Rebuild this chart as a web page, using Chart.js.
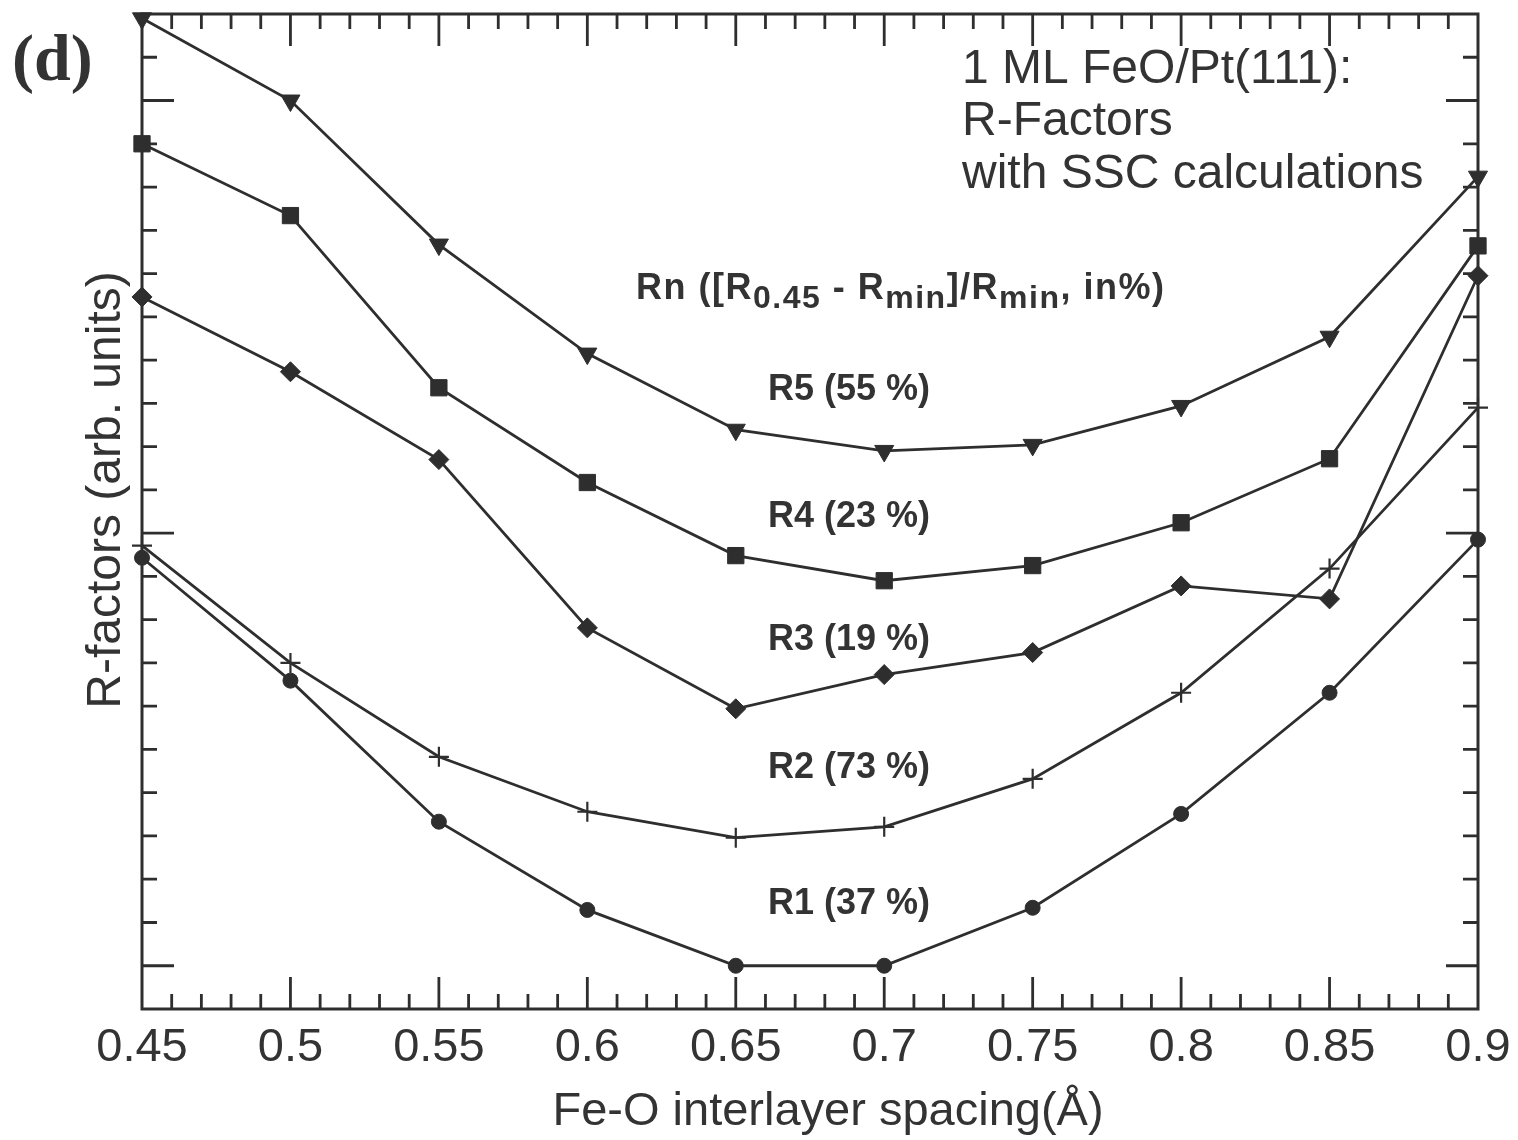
<!DOCTYPE html>
<html>
<head>
<meta charset="utf-8">
<script src="https://cdn.jsdelivr.net/npm/chart.js@4.4.0/dist/chart.umd.min.js"></script>
<style>
  html, body { margin: 0; padding: 0; background: #fff; }
  #wrap { width: 1518px; height: 1140px; }
</style>
</head>
<body>
<div id="wrap"><canvas id="rChart" width="1518" height="1140"></canvas></div>
<script>
// Fe-O interlayer spacing (A)
const spacing = [0.45, 0.5, 0.55, 0.6, 0.65, 0.7, 0.75, 0.8, 0.85, 0.9];

// R-factors, arbitrary units
const r1 = [9.43, 6.59, 3.33, 1.29, 0.0, 0.0, 1.34, 3.51, 6.31, 9.85];
const r2 = [9.71, 7.0, 4.83, 3.56, 2.96, 3.21, 4.32, 6.31, 9.18, 12.9];
const r3 = [15.46, 13.73, 11.7, 7.81, 5.94, 6.73, 7.24, 8.78, 8.48, 15.95];
const r4 = [19.0, 17.34, 13.36, 11.17, 9.48, 8.9, 9.25, 10.24, 11.72, 16.64];
const r5 = [21.9, 20.0, 16.67, 14.15, 12.39, 11.9, 12.04, 12.94, 14.54, 18.24];

const seriesLabels = ['R1 (37 %)', 'R2 (73 %)', 'R3 (19 %)', 'R4 (23 %)', 'R5 (55 %)'];
const xTickValues = [0.45, 0.5, 0.55, 0.6, 0.65, 0.7, 0.75, 0.8, 0.85, 0.9];

const ink = '#2e2e2e';

function pts(arr) {
  return spacing.map((x, i) => ({ x: x, y: arr[i] }));
}

function series(label, arr, style, radius, rot) {
  return {
    label: label,
    data: pts(arr),
    borderColor: ink,
    backgroundColor: ink,
    borderWidth: 2.8,
    pointStyle: style,
    pointRadius: radius,
    pointRotation: rot || 0,
    pointBorderWidth: style === 'cross' ? 2.2 : 1,
    pointBorderColor: ink,
    pointBackgroundColor: ink,
    tension: 0,
    clip: false
  };
}

// frame + inward ticks on all four sides
const frameTicks = {
  id: 'frameTicks',
  beforeDatasetsDraw(chart) {
    const { ctx, chartArea: a, scales: { x, y } } = chart;
    ctx.save();
    ctx.strokeStyle = ink;
    ctx.lineWidth = 3;
    ctx.strokeRect(a.left, a.top, a.right - a.left, a.bottom - a.top);
    ctx.lineWidth = 2.8;
    ctx.beginPath();
    for (let i = 46; i < 90; i++) {
      const px = x.getPixelForValue(i / 100);
      const len = i % 5 === 0 ? 32 : 15;
      ctx.moveTo(px, a.bottom); ctx.lineTo(px, a.bottom - len);
      ctx.moveTo(px, a.top); ctx.lineTo(px, a.top + len);
    }
    for (let v = 0; v <= 21; v++) {
      const py = y.getPixelForValue(v);
      const len = v % 10 === 0 ? 32 : 15;
      ctx.moveTo(a.left, py); ctx.lineTo(a.left + len, py);
      ctx.moveTo(a.right, py); ctx.lineTo(a.right - len, py);
    }
    ctx.stroke();
    ctx.restore();
  },
  afterDraw(chart) {
    const { ctx } = chart;
    ctx.save();
    ctx.fillStyle = '#333';
    ctx.textBaseline = 'alphabetic';

    // panel letter
    ctx.font = 'bold 66px "Liberation Serif", "Times New Roman", serif';
    ctx.textAlign = 'left';
    ctx.fillText('(d)', 12, 80);

    // axis titles
    ctx.font = '47px "Liberation Sans", Arial, sans-serif';
    ctx.textAlign = 'center';
    ctx.fillText('Fe-O interlayer spacing(\u00C5)', 828, 1125);
    ctx.save();
    ctx.translate(120, 490);
    ctx.rotate(-Math.PI / 2);
    ctx.font = '48px "Liberation Sans", Arial, sans-serif';
    ctx.fillText('R-factors (arb. units)', 0, 0);
    ctx.restore();

    // title block
    ctx.textAlign = 'left';
    ctx.font = '48px "Liberation Sans", Arial, sans-serif';
    ctx.fillText('1 ML FeO/Pt(111):', 962, 83);
    ctx.fillText('R-Factors', 962, 135);
    ctx.fillText('with SSC calculations', 962, 188);

    // Rn ([R0.45 - Rmin]/Rmin, in%)
    const big = 'bold 36px "Liberation Sans", Arial, sans-serif';
    const sub = 'bold 32px "Liberation Sans", Arial, sans-serif';
    const parts = [
      ['Rn ([R', big, 0], ['0.45', sub, 9], [' - R', big, 0], ['min', sub, 9],
      [']/R', big, 0], ['min', sub, 9], [', in%)', big, 0]
    ];
    ctx.letterSpacing = '1.5px';
    let cx = 636;
    parts.forEach(([t, f, dy]) => {
      ctx.font = f;
      ctx.fillText(t, cx, 299 + dy);
      cx += ctx.measureText(t).width;
    });
    ctx.letterSpacing = '0px';

    // curve labels
    ctx.font = big;
    const labelY = [914, 778, 650, 527, 400];
    seriesLabels.forEach((t, i) => ctx.fillText(t, 768, labelY[i]));
    ctx.restore();
  }
};

const ctx = document.getElementById('rChart').getContext('2d');
const rChart = new Chart(ctx, {
  type: 'line',
  data: {
    datasets: [
      series(seriesLabels[0], r1, 'circle', 7.5),
      series(seriesLabels[1], r2, 'cross', 10),
      series(seriesLabels[2], r3, 'rectRot', 10),
      series(seriesLabels[3], r4, 'rect', 11.5),
      series(seriesLabels[4], r5, 'triangle', 11, 180)
    ]
  },
  options: {
    responsive: false,
    animation: false,
    layout: { padding: { left: 0, top: 14, right: 40, bottom: 0 } },
    plugins: { legend: { display: false }, tooltip: { enabled: false } },
    scales: {
      x: {
        type: 'linear',
        min: 0.45,
        max: 0.9,
        grid: { display: false, drawTicks: false },
        border: { display: false },
        afterBuildTicks(scale) { scale.ticks = xTickValues.map(v => ({ value: v })); },
        afterFit(scale) {
          scale.height = 131;
          scale.paddingLeft = 0;
          scale.paddingRight = 0;
        },
        ticks: {
          color: '#333',
          padding: 11,
          maxRotation: 0,
          autoSkip: false,
          font: { family: '"Liberation Sans", Arial, sans-serif', size: 47 },
          callback: v => String(Number(v.toFixed(2)))
        }
      },
      y: {
        type: 'linear',
        min: -1,
        max: 22,
        grid: { display: false, drawTicks: false },
        border: { display: false },
        ticks: { display: false },
        afterFit(scale) { scale.width = 142; }
      }
    }
  },
  plugins: [frameTicks]
});
</script>
</body>
</html>
